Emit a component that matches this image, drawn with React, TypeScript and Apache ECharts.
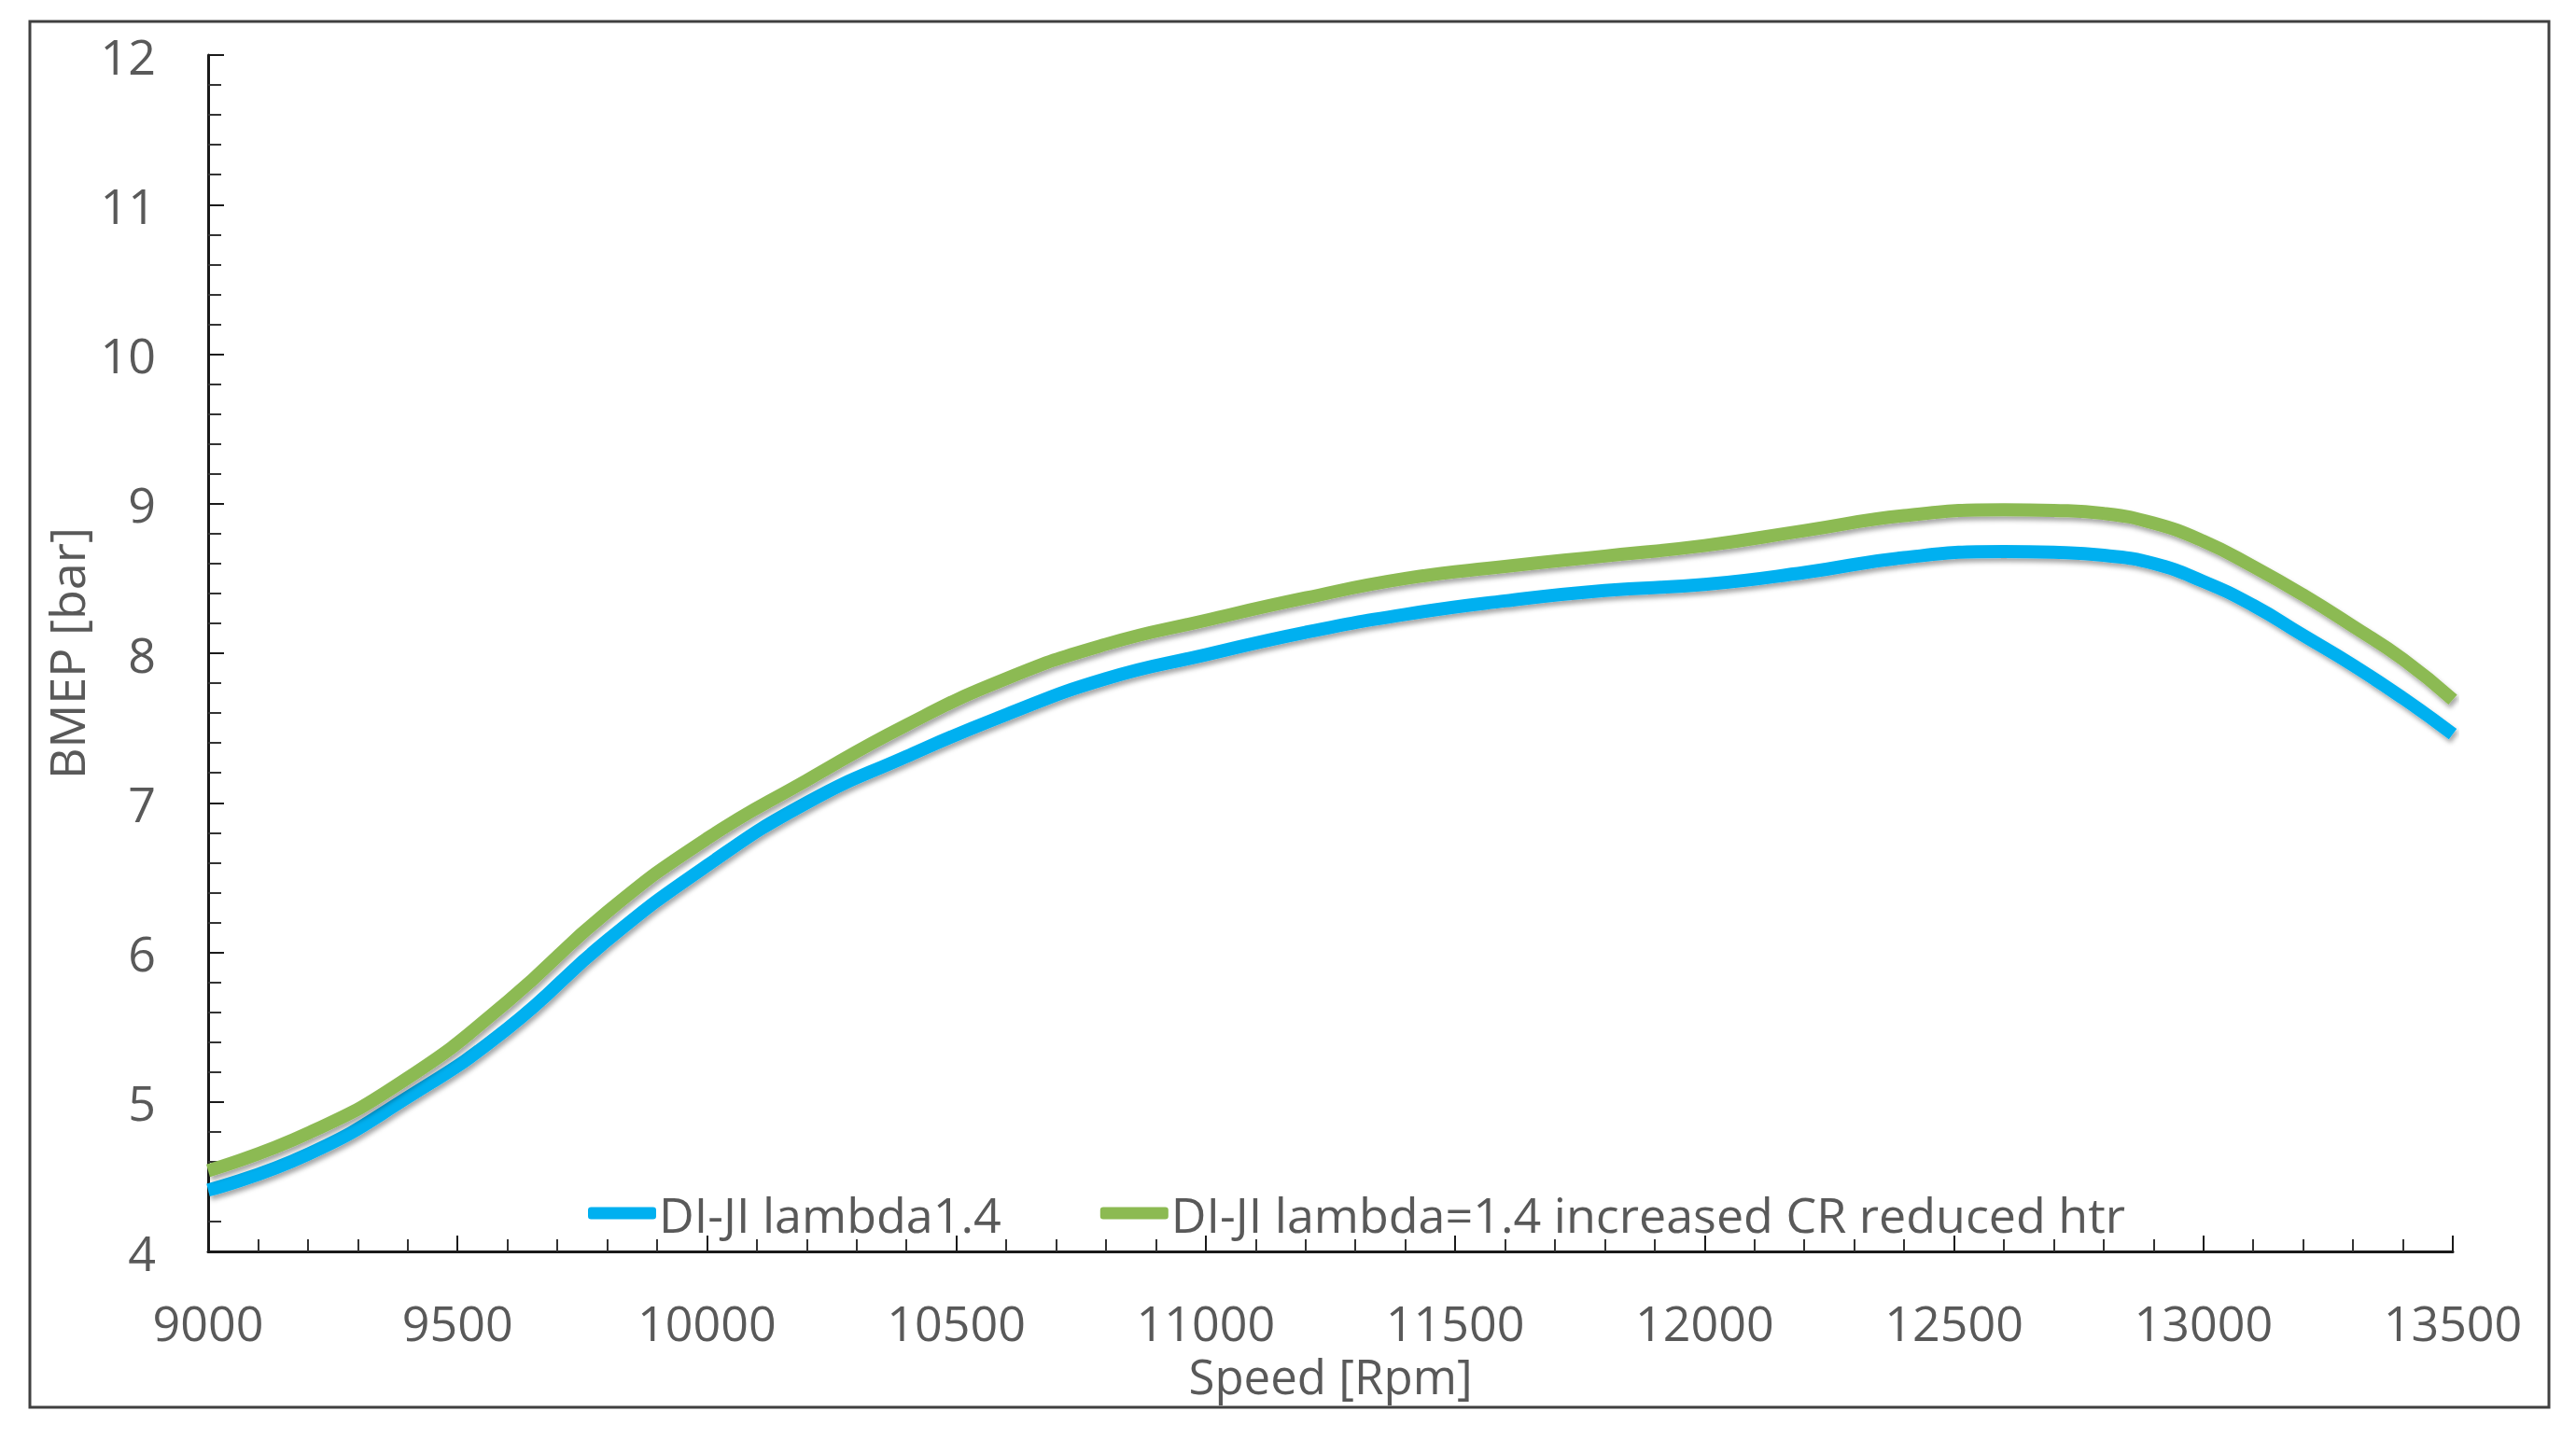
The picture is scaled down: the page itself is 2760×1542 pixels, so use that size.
import React, { useEffect, useRef } from "react";
import * as echarts from "echarts";

const speedRpm = [9000, 9200, 9400, 9600, 9800, 10000, 10200, 10400, 10600, 10800, 11000, 11200, 11400, 11600, 11800, 12000, 12200, 12400, 12600, 12700, 12800, 12900, 13000, 13100, 13200, 13300, 13400, 13500];
const bmepLambda = [4.41, 4.65, 5.03, 5.49, 6.08, 6.58, 7.0, 7.31, 7.59, 7.83, 7.99, 8.14, 8.26, 8.35, 8.42, 8.46, 8.54, 8.64, 8.68, 8.675, 8.655, 8.6, 8.48, 8.32, 8.12, 7.92, 7.7, 7.46];
const bmepIncreasedCR = [4.54, 4.79, 5.16, 5.67, 6.27, 6.76, 7.15, 7.52, 7.83, 8.06, 8.22, 8.37, 8.5, 8.58, 8.65, 8.72, 8.82, 8.92, 8.96, 8.955, 8.935, 8.87, 8.75, 8.58, 8.39, 8.18, 7.96, 7.69];
const seriesNames = ["DI-JI lambda1.4", "DI-JI lambda=1.4 increased CR reduced htr"];
const seriesColors = ["#00B0F0", "#8CBA52"];
const xAxisTitle = "Speed [Rpm]";
const yAxisTitle = "BMEP [bar]";

const FONT = "'Open Sans', 'Liberation Sans', sans-serif";
const TEXT = "#595959";

export default function App() {
  const ref = useRef<HTMLDivElement>(null);
  useEffect(() => {
    if (!ref.current) return;
    const chart = echarts.init(ref.current, null, { renderer: "svg" });
    const mk = (vals: number[]) => speedRpm.map((x, i) => [x, vals[i]]);
    const lineSeries = [bmepLambda, bmepIncreasedCR].map((vals, i) => ({
      type: "line",
      name: seriesNames[i],
      data: mk(vals),
      smooth: 0.5,
      symbol: "none",
      lineStyle: {
        color: seriesColors[i],
        width: 14,
        shadowColor: "rgba(0,0,0,0.35)",
        shadowBlur: 5,
        shadowOffsetX: 2,
        shadowOffsetY: 4,
      },
      itemStyle: { color: seriesColors[i] },
    }));
    chart.setOption({
      animation: false,
      backgroundColor: "#ffffff",
      textStyle: { fontFamily: FONT },
      grid: { left: 223, right: 132, top: 59, bottom: 201, containLabel: false },
      graphic: [
        {
          type: "rect",
          shape: { x: 32, y: 23, width: 2699, height: 1485 },
          style: { fill: "none", stroke: "#404040", lineWidth: 3 },
          silent: true,
        },
      ],
      legend: {
        left: 625,
        top: 1269,
        itemWidth: 73,
        itemHeight: 13,
        itemGap: 106,
        icon: "roundRect",
        textStyle: { fontFamily: FONT, fontSize: 52, color: TEXT, lineHeight: 52, padding: [0, 0, 0, -2] },
        data: seriesNames.map((n, i) => ({ name: n, itemStyle: { color: seriesColors[i] } })),
      },
      xAxis: {
        type: "value",
        min: 9000,
        max: 13500,
        interval: 500,
        name: xAxisTitle,
        nameLocation: "middle",
        nameGap: 112,
        nameTextStyle: { fontFamily: FONT, fontSize: 51, color: TEXT, lineHeight: 42 },
        axisLine: { show: true, onZero: false, lineStyle: { color: "#1a1a1a", width: 3 } },
        axisTick: { show: true, inside: true, length: 17, lineStyle: { color: "#1a1a1a", width: 2 } },
        minorTick: { show: true, splitNumber: 5, length: 13, lineStyle: { color: "#333", width: 2 } },
        splitLine: { show: false },
        minorSplitLine: { show: false },
        axisLabel: {
          fontFamily: FONT,
          fontSize: 52,
          color: TEXT,
          margin: 54,
          lineHeight: 42,
          formatter: (v: number) => String(v),
        },
      },
      yAxis: {
        type: "value",
        min: 4,
        max: 12,
        interval: 1,
        name: yAxisTitle,
        nameLocation: "middle",
        nameGap: 117,
        nameRotate: 90,
        nameTextStyle: { fontFamily: FONT, fontSize: 52, color: TEXT, lineHeight: 52 },
        axisLine: { show: true, lineStyle: { color: "#1a1a1a", width: 3 } },
        axisTick: { show: true, inside: true, length: 17, lineStyle: { color: "#1a1a1a", width: 2 } },
        minorTick: { show: true, splitNumber: 5, length: 14, lineStyle: { color: "#333", width: 2 } },
        splitLine: { show: false },
        minorSplitLine: { show: false },
        axisLabel: { fontFamily: FONT, fontSize: 52, color: TEXT, margin: 56, lineHeight: 52 },
      },
      series: lineSeries,
    });
    return () => chart.dispose();
  }, []);
  return <div ref={ref} style={{ position: "fixed", left: 0, top: 0, width: 2760, height: 1542 }} />;
}
